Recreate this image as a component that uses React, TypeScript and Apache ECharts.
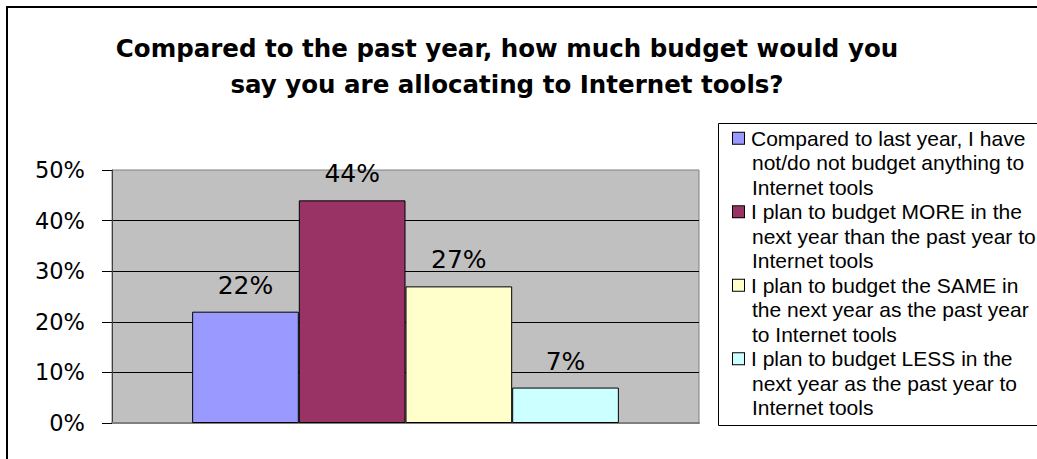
import React, { useEffect, useRef } from "react";
import * as echarts from "echarts";

const titleLines = [
  "Compared to the past year, how much budget would you",
  "say you are allocating to Internet tools?",
];
const categories = [""];
const seriesNames = [
  "Compared to last year, I have not/do not budget anything to Internet tools",
  "I plan to budget MORE in the next year than the past year to Internet tools",
  "I plan to budget the SAME in the next year as the past year to Internet tools",
  "I plan to budget LESS in the next year as the past year to Internet tools",
];
const legendLines = [
  ["Compared to last year, I have", "not/do not budget anything to", "Internet tools"],
  ["I plan to budget MORE in the", "next year than the past year to", "Internet tools"],
  ["I plan to budget the SAME in", "the next year as the past year", "to Internet tools"],
  ["I plan to budget LESS in the", "next year as the past year to", "Internet tools"],
];
const seriesValues = [22, 44, 27, 7];
const seriesColors = ["#9999FF", "#993366", "#FFFFCC", "#CCFFFF"];
const yMin = 0;
const yMax = 50;
const yInterval = 10;

export default function App() {
  const ref = useRef<HTMLDivElement>(null);
  useEffect(() => {
    if (!ref.current) return;
    const chart = echarts.init(ref.current, undefined, { renderer: "svg" });
    const rich: any = {
      t: { fontFamily: "Liberation Sans", fontSize: 21, lineHeight: 24.5, color: "#000" },
      ind: { width: 19, height: 10 },
      g: { width: 7, height: 10 },
    };
    seriesColors.forEach((c, i) => {
      rich["b" + i] = {
        width: 11,
        height: 11,
        backgroundColor: c,
        borderColor: "#000",
        borderWidth: 1,
      };
    });
    const option: any = {
      animation: false,
      backgroundColor: "#fff",
      title: {
        text: titleLines.join("\n"),
        left: 507,
        top: 30,
        padding: 0,
        textAlign: "center",
        textStyle: {
          fontFamily: "DejaVu Sans",
          fontWeight: "bold",
          fontSize: 24.5,
          lineHeight: 36,
          color: "#000",
        },
      },
      legend: {
        orient: "vertical",
        left: 718,
        top: 123,
        padding: [3, 0, 5, 10],
        itemGap: 0,
        itemWidth: 0,
        itemHeight: 0,
        icon: "none",
        selectedMode: false,
        data: seriesNames,
        textStyle: {
          fontFamily: "Liberation Sans",
          fontSize: 21,
          lineHeight: 24.5,
          color: "#000",
          rich,
        },
        formatter: (name: string) => {
          const i = seriesNames.indexOf(name);
          return legendLines[i]
            .map((l, k) => (k === 0 ? `{b${i}|}{g|}{t|${l}}` : `{ind|}{t|${l}}`))
            .join("\n");
        },
      },
      grid: {
        left: 112,
        top: 170,
        width: 587,
        height: 253,
        show: true,
        backgroundColor: "#C0C0C0",
        borderColor: "#808080",
        borderWidth: 1,
      },
      xAxis: {
        type: "category",
        data: categories,
        axisLine: { show: true, lineStyle: { color: "#808080", width: 2 } },
        axisTick: { show: false },
        axisLabel: { show: false },
      },
      yAxis: {
        type: "value",
        min: yMin,
        max: yMax,
        interval: yInterval,
        axisLine: { show: true, lineStyle: { color: "#404040", width: 1 } },
        axisTick: { show: true, length: 10, lineStyle: { color: "#000" } },
        axisLabel: {
          formatter: "{value}%",
          fontFamily: "DejaVu Sans",
          fontSize: 22.5,
          color: "#000",
          margin: 27,
        },
        splitLine: {
          show: true,
          showMinLine: false,
          showMaxLine: false,
          lineStyle: { color: "#000", width: 1 },
        },
      },
      series: seriesNames.map((name, i) => ({
        name,
        type: "bar",
        data: [seriesValues[i]],
        barGap: "0%",
        barCategoryGap: "27.3%",
        itemStyle: { color: seriesColors[i], borderColor: "#000", borderWidth: 1 },
        label: {
          show: true,
          position: "top",
          distance: 14,
          formatter: "{c}%",
          fontFamily: "DejaVu Sans",
          fontSize: 25,
          color: "#000",
        },
      })),
      graphic: [
        {
          type: "polyline",
          z: -10,
          silent: true,
          shape: { points: [[7, 470], [7, 7], [1050, 7]] },
          style: { fill: "none", stroke: "#000", lineWidth: 2 },
        },
        {
          type: "polyline",
          z: -5,
          silent: true,
          shape: { points: [[1050, 123.5], [718.5, 123.5], [718.5, 425.5], [1050, 425.5]] },
          style: { fill: "#fff", stroke: "#000", lineWidth: 1 },
        },
      ],
    };
    chart.setOption(option);
    return () => chart.dispose();
  }, []);
  return (
    <div
      ref={ref}
      style={{ position: "absolute", left: 0, top: 0, width: 1037, height: 459 }}
    />
  );
}
